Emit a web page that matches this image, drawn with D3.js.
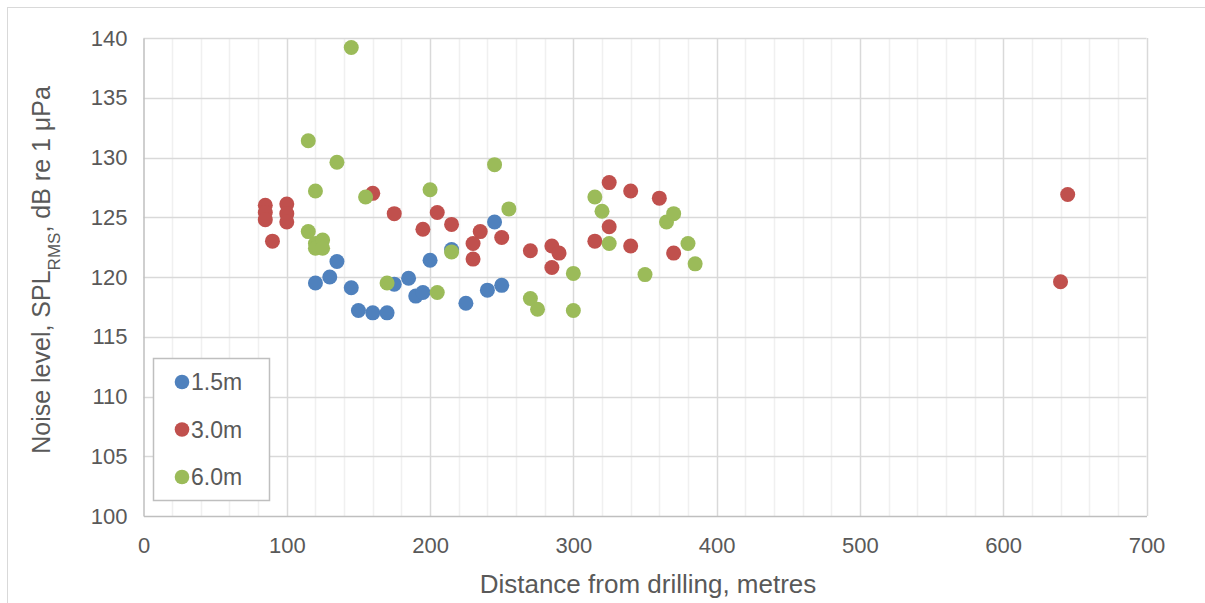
<!DOCTYPE html>
<html>
<head>
<meta charset="utf-8">
<script src="https://cdn.jsdelivr.net/npm/d3@7"></script>
<style>
  body { margin: 0; background: #fff; }
  text { font-family: "Liberation Sans", Arial, sans-serif; fill: #595959; }
</style>
</head>
<body>
<svg id="chart" width="1205" height="603"></svg>
<script>
// distance (m) and noise level (dB) per hydrophone depth
const x_15 = [120, 130, 135, 145, 150, 160, 170, 175, 185, 190, 195, 200, 215, 225, 240, 245, 250]
const y_15 = [119.5, 120.0, 121.3, 119.1, 117.2, 117.0, 117.0, 119.4, 119.9, 118.4, 118.7, 121.4, 122.3, 117.8, 118.9, 124.6, 119.3]

const x_30 = [85, 85, 85, 90, 100, 100, 100, 160, 175, 195, 205, 215, 230, 230, 235, 250, 270, 285, 285, 290, 315, 325, 325, 340, 340, 360, 370, 640, 645]
const y_30 = [126.0, 125.4, 124.8, 123.0, 126.1, 125.3, 124.6, 127.0, 125.3, 124.0, 125.4, 124.4, 122.8, 121.5, 123.8, 123.3, 122.2, 122.6, 120.8, 122.0, 123.0, 127.9, 124.2, 127.2, 122.6, 126.6, 122.0, 119.6, 126.9]

const x_60 = [115, 115, 120, 120, 120, 125, 125, 135, 145, 155, 170, 200, 205, 215, 245, 255, 270, 275, 300, 300, 315, 320, 325, 350, 365, 370, 380, 385]
const y_60 = [131.4, 123.8, 127.2, 122.8, 122.4, 123.1, 122.4, 129.6, 139.2, 126.7, 119.5, 127.3, 118.7, 122.1, 129.4, 125.7, 118.2, 117.3, 120.3, 117.2, 126.7, 125.5, 122.8, 120.2, 124.6, 125.3, 122.8, 121.1]

const series_names = ['1.5m', '3.0m', '6.0m']
const series_colors = ['#4F81BD', '#C0504D', '#9BBB59']
const x_ticks = [0, 100, 200, 300, 400, 500, 600, 700]
const y_ticks = [100, 105, 110, 115, 120, 125, 130, 135, 140]

const svg = d3.select('#chart')
const pLeft = 143.5, pRight = 1146.5, pTop = 38, pBottom = 516

const x = d3.scaleLinear().domain([0, 700]).range([pLeft, pRight])
const y = d3.scaleLinear().domain([100, 140]).range([pBottom, pTop])

// outer chart frame
svg.append('rect')
  .attr('x', 7.5).attr('y', 7.5)
  .attr('width', 1210).attr('height', 610)
  .attr('fill', 'none').attr('stroke', '#d9d9d9')

// minor vertical grid every 20
svg.append('g').selectAll('line')
  .data(d3.range(20, 700, 20).filter(v => v % 100 !== 0))
  .join('line')
  .attr('x1', d => Math.round(x(d)) + 0.5).attr('x2', d => Math.round(x(d)) + 0.5)
  .attr('y1', pTop).attr('y2', pBottom)
  .attr('stroke', '#f0f0f0').attr('stroke-width', 1.5)

// major grid
svg.append('g').selectAll('line')
  .data(x_ticks.slice(1))
  .join('line')
  .attr('x1', d => Math.round(x(d)) + 0.5).attr('x2', d => Math.round(x(d)) + 0.5)
  .attr('y1', pTop).attr('y2', pBottom)
  .attr('stroke', '#d9d9d9').attr('stroke-width', 1.5)

svg.append('g').selectAll('line')
  .data(y_ticks.slice(1))
  .join('line')
  .attr('x1', pLeft).attr('x2', pRight)
  .attr('y1', d => Math.round(y(d)) + 0.5).attr('y2', d => Math.round(y(d)) + 0.5)
  .attr('stroke', '#d9d9d9').attr('stroke-width', 1.5)

// axes
const xAxis = svg.append('g')
  .attr('transform', `translate(0,${pBottom})`)
  .call(d3.axisBottom(x).tickValues(x_ticks).tickSize(0).tickPadding(21))
xAxis.select('.domain').attr('stroke', '#bfbfbf').attr('stroke-width', 1.5)
xAxis.selectAll('text').style('font-size', '22px').attr('fill', '#595959')
  .style('font-family', '"Liberation Sans", Arial, sans-serif')

const yAxis = svg.append('g')
  .attr('transform', `translate(${pLeft},0)`)
  .call(d3.axisLeft(y).tickValues(y_ticks).tickSize(0).tickPadding(16))
yAxis.select('.domain').attr('stroke', '#bfbfbf').attr('stroke-width', 1.5)
yAxis.selectAll('text').style('font-size', '22px').attr('fill', '#595959')
  .style('font-family', '"Liberation Sans", Arial, sans-serif')

// axis titles
svg.append('text')
  .attr('x', 648).attr('y', 593)
  .attr('text-anchor', 'middle')
  .style('font-size', '26px')
  .text('Distance from drilling, metres')

const yTitle = svg.append('text')
  .attr('transform', 'translate(50,270) rotate(-90)')
  .attr('text-anchor', 'middle')
  .style('font-size', '25px')
yTitle.append('tspan').text('Noise level, SPL')
yTitle.append('tspan').attr('baseline-shift', 'sub').style('font-size', '17px').text('RMS')
yTitle.append('tspan').text(', dB re 1 μPa')

// points
const series = [
  d3.zip(x_15, y_15),
  d3.zip(x_30, y_30),
  d3.zip(x_60, y_60),
]
series.forEach((pts, i) => {
  svg.append('g').selectAll('circle')
    .data(pts)
    .join('circle')
    .attr('cx', d => x(d[0]))
    .attr('cy', d => y(d[1]))
    .attr('r', 7.5)
    .attr('fill', series_colors[i])
})

// legend
const lg = svg.append('g')
lg.append('rect')
  .attr('x', 153.5).attr('y', 358.5)
  .attr('width', 116).attr('height', 142)
  .attr('fill', '#fff').attr('stroke', '#bfbfbf').attr('stroke-width', 1.5)
series_names.forEach((name, i) => {
  const cy = 382 + i * 47.5
  lg.append('circle').attr('cx', 182).attr('cy', cy).attr('r', 7.3).attr('fill', series_colors[i])
  lg.append('text').attr('x', 191).attr('y', cy + 8).style('font-size', '23px').text(name)
})
</script>
</body>
</html>
